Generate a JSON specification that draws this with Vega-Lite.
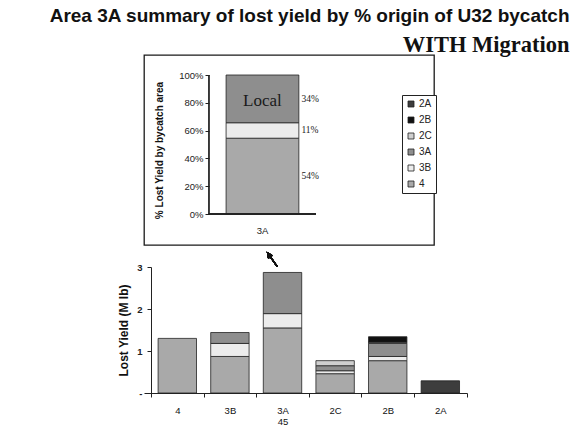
{
  "$schema": "https://vega.github.io/schema/vega-lite/v6.json",
  "background": "white",
  "padding": {"left": 48, "top": 6, "right": 0, "bottom": 0},
  "title": {
    "text": "Area 3A summary of lost yield by % origin of U32 bycatch",
    "subtitle": "WITH Migration",
    "anchor": "end",
    "font": "Liberation Sans",
    "fontSize": 19,
    "fontWeight": "bold",
    "color": "#111111",
    "subtitleFont": "Liberation Serif",
    "subtitleFontSize": 22.5,
    "subtitleFontWeight": "bold",
    "subtitleColor": "#111111",
    "subtitlePadding": 8,
    "offset": -2,
    "dx": 102
  },
  "spacing": 22,
  "bounds": "flush",
  "resolve": {"scale": {"color": "independent"}},
  "vconcat": [
    {
      "width": 290,
      "height": 190,
      "view": {"stroke": "#1a1a1a", "strokeWidth": 1.3},
      "data": {"values": [
        {"area": "3A", "origin": "4", "share": 0.54},
        {"area": "3A", "origin": "3B", "share": 0.11},
        {"area": "3A", "origin": "3A", "share": 0.34}
      ]},
      "transform": [
        {"stack": "share", "groupby": ["area"], "sort": [{"field": "origin", "order": "descending"}], "offset": "normalize", "as": ["lo", "hi"]},
        {"calculate": "(datum.lo + datum.hi) / 2", "as": "mid"}
      ],
      "layer": [
        {
          "mark": {"type": "bar", "stroke": "#222222", "strokeWidth": 0.8, "width": {"band": 0.68}},
          "encoding": {
            "x": {"field": "area", "type": "nominal", "scale": {"paddingInner": 0, "paddingOuter": 0.855, "align": 0.355},
              "axis": {"offset": -31, "domain": false, "ticks": false, "labelAngle": 0, "title": null, "labelPadding": 11, "labelFont": "Liberation Sans", "labelFontSize": 9.5, "labelColor": "#222222"}},
            "y": {"field": "lo", "type": "quantitative", "scale": {"domain": [-0.223, 1.144], "nice": false, "zero": false},
              "axis": {"values": [0, 0.2, 0.4, 0.6, 0.8, 1], "tickCount": 12, "format": ".0%", "labelOverlap": false, "offset": -65, "domain": false, "grid": false, "tickSize": 4, "tickColor": "#222222", "labelFont": "Liberation Sans", "labelFontSize": 9.5, "labelColor": "#222222", "labelPadding": 2, "title": "% Lost Yield by bycatch area", "titleFont": "Liberation Sans", "titleFontSize": 10, "titleFontWeight": "bold", "titleColor": "#111111", "titlePadding": 14}},
            "y2": {"field": "hi"},
            "color": {"field": "origin", "type": "nominal",
              "scale": {"domain": ["2A", "2B", "2C", "3A", "3B", "4"], "range": ["#3d3d3d", "#111111", "#cfcfcf", "#8e8e8e", "#ececec", "#a9a9a9"]},
              "legend": {"orient": "none", "legendX": 258, "legendY": 40, "title": null, "symbolType": "square", "symbolSize": 36, "symbolStrokeColor": "#222222", "symbolStrokeWidth": 0.8, "symbolOpacity": 1, "labelFont": "Liberation Sans", "labelFontSize": 10, "labelColor": "#222222", "rowPadding": 6, "padding": 4, "strokeColor": "#222222", "fillColor": "white", "labelOffset": 3}}
          }
        },
        {
          "mark": {"type": "text", "align": "left", "dx": 39, "font": "Liberation Serif", "fontSize": 9.5, "color": "#222222"},
          "encoding": {
            "x": {"field": "area", "type": "nominal"},
            "y": {"field": "mid", "type": "quantitative"},
            "text": {"field": "share", "type": "quantitative", "format": ".0%"}
          }
        },
        {
          "transform": [{"filter": "datum.origin === '3A'"}],
          "mark": {"type": "text", "text": "Local", "font": "Liberation Serif", "fontSize": 17, "color": "#1a1a1a", "dy": 2},
          "encoding": {
            "x": {"field": "area", "type": "nominal"},
            "y": {"field": "mid", "type": "quantitative"}
          }
        },
        {
          "mark": {"type": "rule", "color": "#222222", "strokeWidth": 1},
          "encoding": {
            "x": {"field": "area", "type": "nominal", "bandPosition": 0},
            "y": {"datum": 0, "type": "quantitative"},
            "y2": {"datum": 1}
          }
        },
        {
          "mark": {"type": "bar", "fillOpacity": 0, "stroke": "#222222", "strokeWidth": 1, "width": {"band": 1}},
          "encoding": {
            "x": {"field": "area", "type": "nominal"},
            "y": {"datum": 0, "type": "quantitative"},
            "y2": {"datum": 0}
          }
        }
      ]
    },
    {
      "width": 323,
      "height": 126,
      "data": {"values": [
        {"area": "4", "origin": "4", "value": 1.30},
        {"area": "3B", "origin": "4", "value": 0.87},
        {"area": "3B", "origin": "3B", "value": 0.31},
        {"area": "3B", "origin": "3A", "value": 0.26},
        {"area": "3A", "origin": "4", "value": 1.55},
        {"area": "3A", "origin": "3B", "value": 0.34},
        {"area": "3A", "origin": "3A", "value": 0.98},
        {"area": "2C", "origin": "4", "value": 0.46},
        {"area": "2C", "origin": "3B", "value": 0.07},
        {"area": "2C", "origin": "3A", "value": 0.12},
        {"area": "2C", "origin": "2C", "value": 0.12},
        {"area": "2B", "origin": "4", "value": 0.77},
        {"area": "2B", "origin": "3B", "value": 0.10},
        {"area": "2B", "origin": "3A", "value": 0.31},
        {"area": "2B", "origin": "2C", "value": 0.03},
        {"area": "2B", "origin": "2B", "value": 0.13},
        {"area": "2A", "origin": "2A", "value": 0.29}
      ]},
      "layer": [
        {
          "mark": {"type": "bar", "stroke": "#222222", "strokeWidth": 0.8, "width": {"band": 0.73}},
          "encoding": {
            "x": {"field": "area", "type": "nominal", "sort": ["4", "3B", "3A", "2C", "2B", "2A"],
              "scale": {"paddingInner": 0, "paddingOuter": 0.07, "align": 0.95},
              "axis": {"tickBand": "extent", "labelAngle": 0, "title": null, "domainColor": "#222222", "tickColor": "#222222", "tickSize": 4, "labelFont": "Liberation Sans", "labelFontSize": 9.5, "labelColor": "#111111", "labelPadding": 8, "labelExpr": "datum.value === '3A' ? ['3A', '45'] : datum.label"}},
            "y": {"field": "value", "type": "quantitative", "stack": "zero", "scale": {"domain": [0, 3], "nice": false},
              "axis": {"values": [0, 1, 2, 3], "tickCount": 8, "format": "d", "labelExpr": "datum.value === 0 ? '-' : datum.label", "offset": -7, "grid": false, "domainColor": "#222222", "tickColor": "#222222", "tickSize": 4, "labelFont": "Liberation Sans", "labelFontSize": 9.5, "labelFontWeight": "bold", "labelColor": "#222222", "labelPadding": 5, "title": "Lost Yield (M lb)", "titleFont": "Liberation Sans", "titleFontSize": 12, "titleFontWeight": "bold", "titleColor": "#111111", "titlePadding": 6}},
            "color": {"field": "origin", "type": "nominal",
              "scale": {"domain": ["2A", "2B", "2C", "3A", "3B", "4"], "range": ["#3d3d3d", "#111111", "#cfcfcf", "#8e8e8e", "#ececec", "#a9a9a9"]},
              "legend": null},
            "order": {"field": "origin", "sort": "descending"}
          }
        },
        {
          "mark": {"type": "point", "shape": "M -0.9,-1 L -0.06,-0.49 L -0.32,-0.31 L 0.57,0.95 L 0.43,1.05 L -0.46,-0.21 L -0.72,-0.03 Z", "size": 225, "filled": true, "color": "#111111", "opacity": 1, "xOffset": -9},
          "encoding": {
            "x": {"datum": "3A"},
            "y": {"datum": 3.186, "type": "quantitative"}
          }
        }
      ]
    }
  ],
  "config": {
    "font": "Liberation Sans",
    "view": {"stroke": null},
    "axis": {"grid": false},
    "axisY": {"labelOverlap": false},
    "axisQuantitative": {"labelOverlap": false}
  }
}
